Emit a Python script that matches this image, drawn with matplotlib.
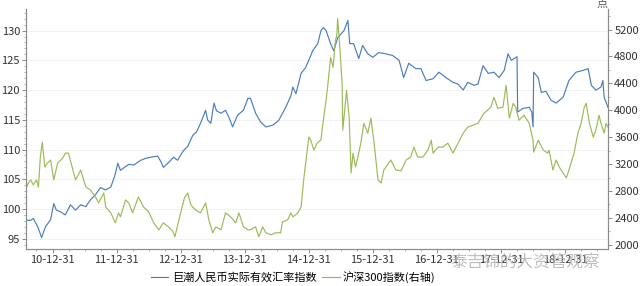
import matplotlib
matplotlib.use("Agg")
import matplotlib.pyplot as plt
from matplotlib.ticker import MultipleLocator

plt.rcParams['font.family'] = ['Noto Sans CJK SC', 'DejaVu Sans']

# 巨潮人民币实际有效汇率指数 (左轴), 时间用小数年表示
reer_t = [2010.59, 2010.66, 2010.70, 2010.77, 2010.83, 2010.89, 2010.97, 2011.02, 2011.06,
          2011.13, 2011.20, 2011.28, 2011.36, 2011.44, 2011.52, 2011.59, 2011.67, 2011.75,
          2011.83, 2011.91, 2011.97, 2012.02, 2012.06, 2012.11, 2012.19, 2012.27, 2012.38,
          2012.45, 2012.53, 2012.64, 2012.69, 2012.73, 2012.81, 2012.89, 2012.95, 2013.05,
          2013.11, 2013.19, 2013.25, 2013.31, 2013.39, 2013.42, 2013.47, 2013.52, 2013.56,
          2013.63, 2013.70, 2013.77, 2013.81, 2013.89, 2013.98, 2014.05, 2014.09, 2014.17,
          2014.25, 2014.33, 2014.44, 2014.53, 2014.64, 2014.72, 2014.75, 2014.80, 2014.88,
          2014.95, 2015.02, 2015.06, 2015.14, 2015.19, 2015.23, 2015.27, 2015.34, 2015.39,
          2015.45, 2015.55, 2015.61, 2015.64, 2015.70, 2015.78, 2015.84, 2015.92, 2016.00,
          2016.09, 2016.20, 2016.31, 2016.41, 2016.48, 2016.56, 2016.67, 2016.75, 2016.83,
          2016.94, 2017.03, 2017.14, 2017.25, 2017.33, 2017.41, 2017.48, 2017.58, 2017.64,
          2017.72, 2017.80, 2017.89, 2017.97, 2018.05, 2018.11, 2018.16, 2018.25, 2018.26,
          2018.34, 2018.44, 2018.48, 2018.50, 2018.51, 2018.58, 2018.63, 2018.70, 2018.78,
          2018.86, 2018.97, 2019.06, 2019.17, 2019.28, 2019.36, 2019.41, 2019.48, 2019.56,
          2019.59, 2019.61, 2019.67]
reer_v = [98.1, 98.1, 98.4, 97.0, 95.2, 97.0, 98.2, 100.9, 99.8,
          99.5, 99.0, 100.7, 99.8, 100.7, 100.4, 101.5, 102.4, 103.6,
          103.2, 103.7, 105.5, 107.7, 106.5, 106.9, 107.5, 107.4, 108.2,
          108.5, 108.7, 108.9, 108.0, 107.0, 107.8, 108.7, 108.2, 109.9,
          110.5, 112.4, 113.0, 114.4, 116.6, 115.0, 114.4, 117.8, 116.5,
          116.1, 116.6, 115.0, 113.8, 115.8, 116.6, 118.6, 118.6, 116.1,
          114.6, 113.8, 114.1, 114.9, 117.1, 119.0, 120.5, 119.4, 122.8,
          123.8, 125.5, 126.6, 127.8, 130.0, 130.5, 130.0, 127.8, 126.6,
          128.8, 130.0, 131.7, 127.8, 127.8, 125.3, 127.5, 126.1, 125.5,
          126.3, 126.1, 125.8, 125.0, 122.1, 124.5, 123.6, 123.6, 121.6,
          121.9, 123.0, 122.1, 121.3, 121.0, 120.0, 121.3, 120.8, 121.0,
          124.1, 122.8, 123.0, 122.1, 123.3, 126.1, 125.0, 125.6, 116.3,
          116.9, 117.1, 116.3, 113.8, 123.0, 122.1, 119.6, 119.8, 118.3,
          117.8, 118.8, 121.6, 123.0, 123.3, 123.6, 120.8, 120.0, 120.5,
          121.6, 118.8, 117.1]

# 沪深300指数 (右轴)
csi_t = [2010.59, 2010.63, 2010.66, 2010.70, 2010.75, 2010.78, 2010.81, 2010.84, 2010.88,
         2010.92, 2010.97, 2011.02, 2011.08, 2011.16, 2011.20, 2011.25, 2011.28, 2011.36,
         2011.44, 2011.52, 2011.59, 2011.67, 2011.72, 2011.80, 2011.83, 2011.91, 2011.98,
         2012.03, 2012.06, 2012.14, 2012.19, 2012.25, 2012.34, 2012.42, 2012.50, 2012.58,
         2012.66, 2012.73, 2012.81, 2012.88, 2012.91, 2013.00, 2013.06, 2013.11, 2013.16,
         2013.23, 2013.31, 2013.39, 2013.44, 2013.50, 2013.55, 2013.63, 2013.70, 2013.78,
         2013.86, 2013.91, 2013.98, 2014.05, 2014.09, 2014.17, 2014.22, 2014.28, 2014.33,
         2014.41, 2014.48, 2014.56, 2014.59, 2014.67, 2014.72, 2014.75, 2014.83, 2014.88,
         2014.92, 2014.97, 2015.00, 2015.03, 2015.08, 2015.13, 2015.19, 2015.22, 2015.27,
         2015.30, 2015.34, 2015.38, 2015.41, 2015.44, 2015.45, 2015.48, 2015.52, 2015.53,
         2015.56, 2015.59, 2015.63, 2015.66, 2015.69, 2015.73, 2015.81, 2015.86, 2015.92,
         2015.97, 2016.02, 2016.08, 2016.13, 2016.17, 2016.28, 2016.36, 2016.44, 2016.52,
         2016.59, 2016.64, 2016.70, 2016.78, 2016.86, 2016.91, 2016.94, 2017.02, 2017.09,
         2017.17, 2017.25, 2017.33, 2017.41, 2017.48, 2017.56, 2017.64, 2017.73, 2017.84,
         2017.89, 2017.95, 2018.03, 2018.08, 2018.13, 2018.19, 2018.23, 2018.28, 2018.36,
         2018.44, 2018.50, 2018.51, 2018.58, 2018.66, 2018.73, 2018.75, 2018.81, 2018.86,
         2018.91, 2018.97, 2019.02, 2019.06, 2019.14, 2019.20, 2019.25, 2019.30, 2019.33,
         2019.38, 2019.44, 2019.48, 2019.53, 2019.56, 2019.61, 2019.64, 2019.67]
csi_v = [2845, 2930, 2964, 2890, 2964, 2860, 3304, 3526, 3156,
         3215, 3260, 2964, 3215, 3289, 3363, 3363, 3250, 2964,
         3112, 2860, 2816, 2712, 2623, 2771, 2564, 2475, 2327,
         2475, 2416, 2667, 2623, 2475, 2712, 2564, 2490, 2327,
         2223, 2327, 2267, 2200, 2120, 2475, 2700, 2771, 2593,
         2519, 2475, 2623, 2371, 2179, 2267, 2223, 2475, 2416,
         2327, 2475, 2267, 2223, 2223, 2267, 2120, 2267, 2179,
         2149, 2179, 2179, 2342, 2371, 2475, 2416, 2475, 2564,
         2964, 3363, 3600, 3556, 3408, 3511, 3560, 3800, 4148,
         4400, 4785, 4637, 4993, 5141, 5363, 4993, 4400, 3704,
         4000, 4296, 3897, 3067, 3363, 3156, 3500, 3807, 3660,
         3882, 3511, 2964, 2919, 3112, 3260, 3112, 3100, 3260,
         3304, 3452, 3304, 3304, 3408, 3556, 3363, 3452, 3452,
         3511, 3363, 3511, 3660, 3748, 3778, 3807, 3950, 4045,
         4193, 4030, 4045, 4370, 3882, 4104, 4045, 3852, 3926,
         3807, 3556, 3378, 3556, 3408, 3363, 3408, 3112, 3260,
         3156, 3067, 2993, 3112, 3363, 3660, 3807, 4045, 4104,
         3807, 3600, 3704, 3926, 3807, 3660, 3807, 3748]

tick_years = [2011, 2012, 2013, 2014, 2015, 2016, 2017, 2018, 2019]
tick_labels = ["10-12-31", "11-12-31", "12-12-31", "13-12-31", "14-12-31",
               "15-12-31", "16-12-31", "17-12-31", "18-12-31"]

blue = "#4a7ebb"
green = "#9bbb59"
axis_gray = "#8c8c8c"

fig = plt.figure(figsize=(6.4, 2.86), dpi=100)
ax = fig.add_axes([0.041, 0.13, 0.909, 0.84])
ax2 = ax.twinx()

l1, = ax.plot(reer_t, reer_v, color=blue, linewidth=0.85, label="巨潮人民币实际有效汇率指数")
l2, = ax2.plot(csi_t, csi_v, color=green, linewidth=0.85, label="沪深300指数(右轴)")

ax.set_xlim(2010.59, 2019.67)
ax.set_ylim(93.3, 133.7)
ax2.set_ylim(1941, 5511)

ax.set_yticks([95, 100, 105, 110, 115, 120, 125, 130])
ax.yaxis.set_minor_locator(MultipleLocator(1))
ax2.set_yticks([2000, 2400, 2800, 3200, 3600, 4000, 4400, 4800, 5200])
ax2.yaxis.set_minor_locator(MultipleLocator(200))
ax.set_xticks(tick_years)
ax.set_xticklabels(tick_labels)
ax.xaxis.set_minor_locator(MultipleLocator(0.25))

ax.grid(axis="y", color="#f0f0f0", linewidth=0.6)
ax.set_axisbelow(True)

for a in (ax, ax2):
    a.spines["top"].set_visible(False)
    for s in ("left", "right", "bottom"):
        a.spines[s].set_color(axis_gray)
        a.spines[s].set_linewidth(0.8)
    a.tick_params(which="major", length=3, width=0.7, color=axis_gray,
                  labelsize=8, labelcolor="#333333", pad=1.5)
    a.tick_params(which="minor", length=1.5, width=0.5, color=axis_gray)

ax.text(1.0, 1.0, "点", transform=ax.transAxes, ha="right", va="bottom",
        fontsize=8, color="#555555")

fig.legend(handles=[l1, l2], loc="center", bbox_to_anchor=(0.458, 0.03), ncol=2,
           frameon=False, fontsize=8, handlelength=1.6, handletextpad=0.3,
           columnspacing=0.5)

fig.text(0.82, 0.085, "泰吉锦的大资管观察", ha="center", va="center",
         fontsize=12, color="#b0b0b0", alpha=0.8)

fig.savefig("out.png", dpi=100)
